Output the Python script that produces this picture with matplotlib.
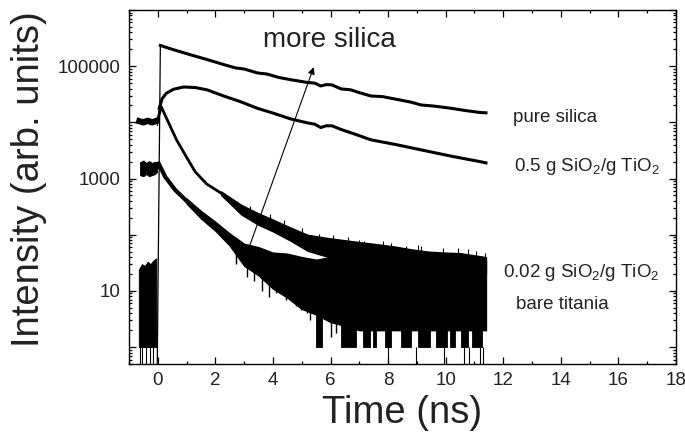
import numpy as np
import matplotlib
matplotlib.use('Agg')
import matplotlib.pyplot as plt
from matplotlib.ticker import LogLocator, FuncFormatter, MultipleLocator

plt.rcParams['font.family'] = ['Liberation Sans', 'DejaVu Sans']
plt.rcParams['mathtext.default'] = 'regular'

# pure silica decay
silica_t = [-0.02, 0.09, 0.5, 1.13, 1.7, 2.29, 2.7, 3.0, 3.46, 3.8, 4.2, 4.62,
            5.2, 5.45, 5.66, 5.85, 6.05, 6.36, 6.7, 7.0, 7.4, 7.8, 8.3, 8.8,
            9.15, 9.6, 10.2, 10.7, 11.2, 11.4]
silica_i = [0.4, 234000, 200000, 160000, 132000, 107000, 93300, 89100, 75900,
            72400, 63100, 57500, 51300, 50100, 44500, 47000, 46500, 39500,
            38000, 33900, 29500, 28800, 25700, 22900, 20400, 19500, 17800,
            16200, 15000, 14800]

# 0.5 g SiO2 / g TiO2
half_t = [-0.01, 0.05, 0.15, 0.3, 0.55, 0.9, 1.3, 1.71, 2.29, 2.87, 3.46, 4.03,
          4.62, 5.2, 5.45, 5.66, 5.85, 6.05, 6.36, 6.8, 7.4, 8.3, 9.15, 10.2,
          11.2, 11.4]
half_i = [8900, 17800, 26300, 33100, 38900, 42700, 41700, 38000, 29500, 23400,
          17800, 14500, 11500, 9800, 9300, 8100, 8700, 8700, 7500, 6300, 4900,
          4000, 3240, 2500, 2000, 1900]

# 0.02 g SiO2 / g TiO2 : baseline + fast decay, then noisy band
low_t = [-0.64, -0.5, -0.35, -0.2, -0.08, 0.0, 0.12, 0.65, 1.0, 1.3, 1.7, 2.2]
low_i = [10500, 10000, 10700, 10000, 10500, 11200, 19000, 4900, 2400, 1320,
         800, 550]
low_band_t = [2.2, 2.9, 3.5, 4.0, 4.6, 5.2, 5.8, 6.4, 7.0, 7.6, 8.2, 8.8, 9.4,
              10.0, 10.5, 11.0, 11.4]
low_band_hi = [590, 340, 240, 186, 135, 100, 89, 81, 74, 68, 62, 55, 50, 48, 47,
               43, 40]
low_band_lo = [510, 230, 150, 115, 79, 52, 42, 35, 32, 28, 25, 25, 25, 22, 22,
               20, 20]
# upward noise spikes on top of that band
up_t = [3.2, 3.9, 4.4, 5.0, 5.6, 6.1, 6.6, 7.0, 7.18, 7.82, 8.11, 8.63, 9.04,
        9.15, 9.9, 10.43, 10.78, 11.07, 11.35]
up_i = [330, 235, 180, 130, 105, 98, 90, 82, 78, 76, 70, 64, 66, 63, 58, 57,
        56, 52, 48]

# bare titania : baseline band, decay, then noisy band
bare_base_t = [-0.62, -0.5, -0.4, -0.3, -0.2, -0.1, -0.03]
bare_base_hi = [1950, 2100, 1900, 2050, 1900, 2000, 1950]
bare_base_lo = [1150, 1100, 1200, 1100, 1150, 1200, 1300]
bare_t = [-0.03, 0.03, 0.26, 0.6, 1.0]
bare_i = [1600, 1860, 1070, 630, 400]
bare_band_t = [1.0, 1.5, 2.0, 2.5, 3.0, 3.5, 4.0, 4.5, 5.0, 5.5, 6.0, 6.5, 7.0,
               8.0, 9.0, 10.0, 11.0, 11.4]
bare_band_hi = [440, 265, 170, 105, 69, 60, 48, 46, 40, 36, 40, 40, 40, 38, 37,
                36, 35, 35]
bare_band_lo = [360, 195, 118, 64, 28, 19, 11, 7.6, 4.8, 3.8, 2.8, 2.4, 2.0,
                2.0, 2.0, 2.0, 2.0, 2.0]

# pre-zero noise (background counts)
pre_t = [-0.66, -0.55, -0.45, -0.35, -0.25, -0.15, -0.05]
pre_hi = [24, 30, 28, 33, 30, 35, 38]

# downward spikes of the noisy band (time, lowest count)
spike_t = [2.7, 3.1, 3.35, 3.63, 3.86, 4.1, 4.27, 4.45, 4.62, 4.8, 4.97, 5.2,
           5.3, 6.0, 6.2]
spike_i = [30, 18, 15, 10, 7.8, 9, 10, 7, 6.8, 5.5, 4.5, 4.0, 3.0, 1.5, 1.8]
# stretches where counts drop to 1
one_start = [5.5, 6.36, 7.12, 7.47, 7.88, 8.46, 9.04, 9.68, 10.15, 10.55, 10.9]
one_end = [5.72, 6.88, 7.36, 7.59, 8.11, 8.81, 9.45, 10.03, 10.32, 10.78, 11.25]
# channels with zero counts
zero_t = [-0.63, -0.54, -0.4, -0.26, -0.16, 7.99, 8.97, 9.95, 10.65, 10.8,
          11.2, 11.3]

labels = ['pure silica', '0.5 g SiO$_2$/g TiO$_2$',
          '0.02 g SiO$_2$/g TiO$_2$', 'bare titania']

fig = plt.figure(figsize=(6.85, 4.36), dpi=100)
ax = fig.add_axes([0.1883, 0.1651, 0.7985, 0.8119])
ax.set_yscale('log')

k = 'black'
# background
ax.fill_between(pre_t, 1, pre_hi, color=k, lw=0.6)
ax.vlines(zero_t, 0.3, 1, color=k, lw=0.8)

# pure silica
ax.plot(silica_t[:2], silica_i[:2], color=k, lw=0.9)
ax.plot(silica_t[1:], silica_i[1:], color=k, lw=2.2)
# 0.5 g
ax.plot(half_t[:2], half_i[:2], color=k, lw=0.9)
ax.plot(half_t[1:], half_i[1:], color=k, lw=2.2)
# 0.02 g
ax.plot(low_t[:5], low_i[:5], color=k, lw=4.5)
ax.plot(low_t[4:], low_i[4:], color=k, lw=2.0)
ax.fill_between(low_band_t, low_band_lo, low_band_hi, color=k, lw=1.0)
ax.vlines(up_t, np.array(up_i) * 0.8, up_i, color=k, lw=0.8)
# bare titania
ax.fill_between(bare_base_t, bare_base_lo, bare_base_hi, color=k, lw=0.6)
ax.plot(bare_t, bare_i, color=k, lw=3)
ax.fill_between(bare_band_t, bare_band_lo, bare_band_hi, color=k, lw=1.0)
ax.vlines(spike_t, spike_i, np.array(spike_i) * 2.5, color=k, lw=1.0)
for a, b in zip(one_start, one_end):
    ax.fill_between([a, b], 1, 4, color=k, lw=0.6)

ax.set_xlim(-1, 18)
ax.set_ylim(0.5, 1e6)

ax.xaxis.set_major_locator(MultipleLocator(2))
ax.xaxis.set_minor_locator(MultipleLocator(1))
ax.yaxis.set_major_locator(LogLocator(base=10, numticks=20))
ax.yaxis.set_minor_locator(LogLocator(base=10, subs=np.arange(2, 10), numticks=20))
ax.yaxis.set_major_formatter(FuncFormatter(
    lambda v, p: '%d' % round(v) if v in (10, 1000, 100000) else ''))

ax.tick_params(which='both', direction='in', top=True, right=True,
               labelsize=13.5, labelcolor='#222222', width=0.9)
ax.tick_params(which='major', length=5, pad=6)
ax.tick_params(which='minor', length=2.5)
for s in ax.spines.values():
    s.set_linewidth(1.0)

ax.set_xlabel('Time (ns)', fontsize=27.5, color='#222222', labelpad=4)
ax.set_ylabel('Intensity (arb. units)', fontsize=27.5, color='#222222')
ax.yaxis.set_label_coords(-0.150, 0.521)

ax.annotate('', xy=(5.45, 1.07e5), xytext=(3.05, 40),
            arrowprops=dict(arrowstyle='-|>', color=k, lw=0.8,
                            mutation_scale=10))
ax.text(5.95, 2.9e5, 'more silica', fontsize=20, color='#222222',
        ha='center', va='center')

label_x = [12.34, 12.39, 12.0, 12.46]
label_y = [12000, 1620, 21, 5.8]
for lx, ly, lab in zip(label_x, label_y, labels):
    ax.text(lx, ly, lab, fontsize=13.5, color='#222222', va='center')

fig.savefig('out.png', dpi=100)
